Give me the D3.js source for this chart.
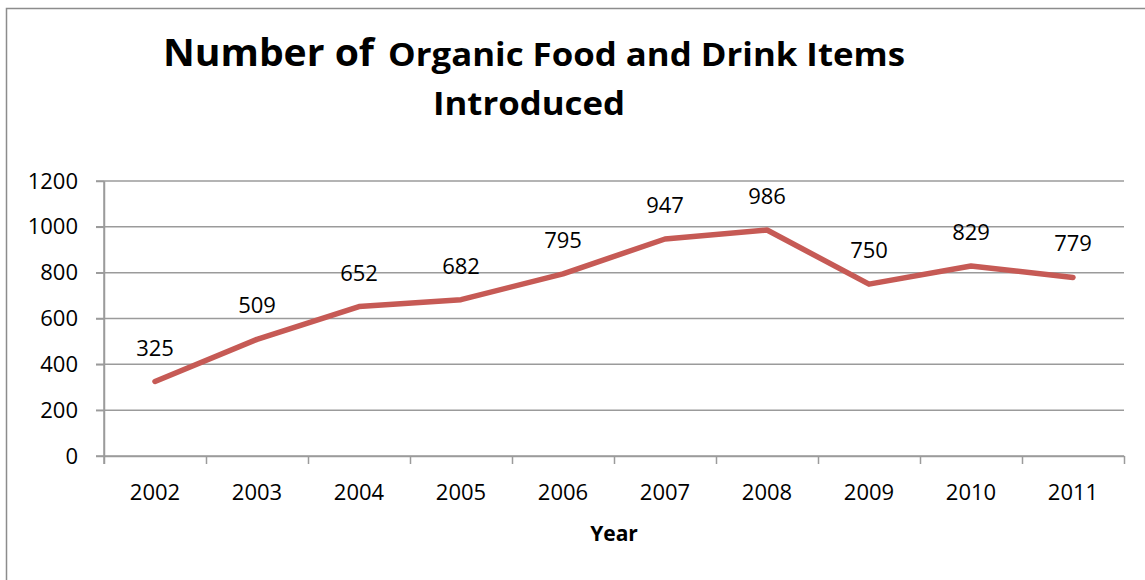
<!DOCTYPE html>
<html>
<head>
<meta charset="utf-8">
<script src="https://cdn.jsdelivr.net/npm/d3@7/dist/d3.min.js"></script>
<style>
  html, body { margin: 0; padding: 0; background: #fff; overflow: hidden; }
  svg { display: block; }
</style>
</head>
<body>
<svg id="chart" width="1145" height="580"></svg>
<script>
const years = ["2002","2003","2004","2005","2006","2007","2008","2009","2010","2011"];
const items = [325, 509, 652, 682, 795, 947, 986, 750, 829, 779];
const yTicks = [0, 200, 400, 600, 800, 1000, 1200];
const titleLine1a = "Number of";
const titleLine1b = "Organic Food and Drink Items";
const titleLine2 = "Introduced";
const xTitle = "Year";

(function () {
const svg = d3.select("#chart");
const font = "'Open Sans', 'Noto Sans', sans-serif";
const pLeft = 104, pRight = 1124, pTop = 181, pBottom = 456;

// outer frame
svg.append("rect").attr("x", 6.5).attr("y", 8.5).attr("width", 1160).attr("height", 600)
  .attr("fill", "none").attr("stroke", "#8c8c8c").attr("stroke-width", 1.5);

const x = d3.scaleBand().domain(years).range([pLeft, pRight]).paddingInner(0).paddingOuter(0);
const y = d3.scaleLinear().domain([0, 1200]).range([pBottom, pTop]);
const xb = d3.scaleLinear().domain([0, years.length]).range([pLeft, pRight]);

// gridlines
svg.append("g").selectAll("line").data(yTicks).join("line")
  .attr("x1", pLeft - 8).attr("x2", pRight)
  .attr("y1", d => y(d)).attr("y2", d => y(d))
  .attr("stroke", "#9b9b9b").attr("stroke-width", 1.5);

// y axis
const yAxis = svg.append("g").attr("transform", `translate(${pLeft},0)`)
  .call(d3.axisLeft(y).tickValues(yTicks).tickFormat(d3.format("d"))
    .tickSize(8).tickSizeOuter(0).tickPadding(18));
yAxis.select(".domain").attr("stroke", "#9b9b9b").attr("stroke-width", 1.5);
yAxis.selectAll(".tick line").attr("stroke", "#9b9b9b").attr("stroke-width", 1.5);
yAxis.selectAll("text").attr("font-family", font).attr("font-size", 22).attr("fill", "#000");
svg.append("line").attr("x1", pLeft).attr("x2", pLeft).attr("y1", pTop).attr("y2", pBottom + 8)
  .attr("stroke", "#9b9b9b").attr("stroke-width", 1.5);

// x axis ticks at category boundaries
const xTickAxis = svg.append("g").attr("transform", `translate(0,${pBottom})`)
  .call(d3.axisBottom(xb).tickValues(d3.range(years.length + 1)).tickSize(8).tickSizeOuter(0).tickFormat(""));
xTickAxis.select(".domain").attr("stroke", "#9b9b9b").attr("stroke-width", 1.5);
xTickAxis.selectAll(".tick line").attr("stroke", "#9b9b9b").attr("stroke-width", 1.5);

// x labels
const xLab = svg.append("g").attr("transform", `translate(0,${pBottom})`)
  .call(d3.axisBottom(x).tickSize(0).tickPadding(0));
xLab.select(".domain").remove();
xLab.selectAll("text").attr("font-family", font).attr("font-size", 22).attr("fill", "#000")
  .attr("dy", null).attr("y", 44);

// line
const line = d3.line().x((d, i) => x(years[i]) + x.bandwidth() / 2).y(d => y(d));
svg.append("path").datum(items).attr("d", line)
  .attr("fill", "none").attr("stroke", "#c65a55").attr("stroke-width", 5.5)
  .attr("stroke-linejoin", "round").attr("stroke-linecap", "round");

// data labels
svg.append("g").selectAll("text").data(items).join("text")
  .attr("x", (d, i) => x(years[i]) + x.bandwidth() / 2)
  .attr("y", d => y(d) - 26)
  .attr("text-anchor", "middle")
  .attr("font-family", font).attr("font-size", 22).attr("fill", "#000")
  .text(d => d);

// axis title
svg.append("text").attr("x", (pLeft + pRight) / 2).attr("y", 541).attr("text-anchor", "middle")
  .attr("font-family", font).attr("font-size", 21).attr("font-weight", "bold").attr("fill", "#000")
  .text(xTitle);

// chart title
svg.append("text").attr("x", 163).attr("y", 66)
  .attr("font-family", font).attr("font-size", 38).attr("font-weight", "bold")
  .attr("textLength", 211).attr("lengthAdjust", "spacingAndGlyphs").text(titleLine1a);
svg.append("text").attr("x", 388).attr("y", 66)
  .attr("font-family", font).attr("font-size", 32).attr("font-weight", "bold")
  .attr("textLength", 517).attr("lengthAdjust", "spacingAndGlyphs").text(titleLine1b);
svg.append("text").attr("x", 433).attr("y", 115)
  .attr("font-family", font).attr("font-size", 32).attr("font-weight", "bold")
  .attr("textLength", 192).attr("lengthAdjust", "spacingAndGlyphs").text(titleLine2);
})();
</script>
</body>
</html>
